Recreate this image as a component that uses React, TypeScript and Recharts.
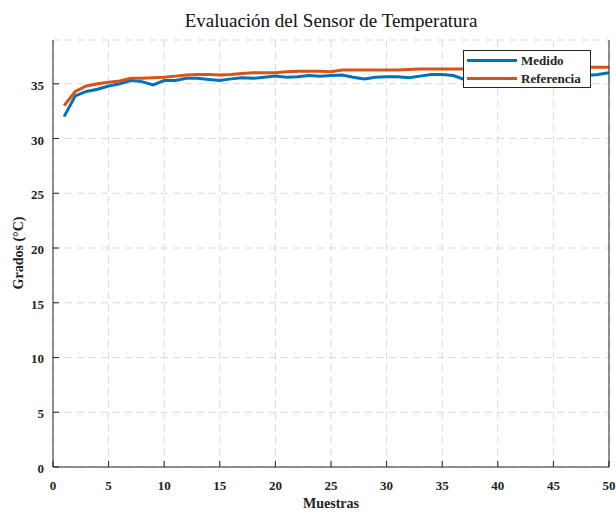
import React from 'react';
import { LineChart, Line, XAxis, YAxis, CartesianGrid } from 'recharts';

const samples = [1, 2, 3, 4, 5, 6, 7, 8, 9, 10, 11, 12, 13, 14, 15, 16, 17, 18, 19, 20, 21, 22, 23, 24, 25, 26, 27, 28, 29, 30, 31, 32, 33, 34, 35, 36, 37, 38, 39, 40, 41, 42, 43, 44, 45, 46, 47, 48, 49, 50];
const medido = [32.0, 33.9, 34.3, 34.5, 34.8, 35.0, 35.3, 35.2, 34.9, 35.3, 35.3, 35.5, 35.5, 35.4, 35.3, 35.45, 35.55, 35.5, 35.6, 35.7, 35.6, 35.65, 35.75, 35.7, 35.75, 35.8, 35.6, 35.45, 35.6, 35.65, 35.65, 35.55, 35.7, 35.85, 35.85, 35.75, 35.4, 35.5, 35.6, 35.7, 35.7, 35.8, 35.75, 35.8, 35.85, 35.8, 35.8, 35.75, 35.85, 36.0];
const referencia = [33.0, 34.3, 34.8, 35.0, 35.15, 35.25, 35.5, 35.5, 35.55, 35.6, 35.7, 35.8, 35.85, 35.85, 35.8, 35.85, 35.95, 36.0, 36.0, 36.0, 36.1, 36.15, 36.15, 36.15, 36.1, 36.25, 36.25, 36.25, 36.25, 36.25, 36.25, 36.3, 36.35, 36.35, 36.35, 36.35, 36.35, 36.4, 36.4, 36.4, 36.45, 36.45, 36.45, 36.45, 36.5, 36.5, 36.5, 36.5, 36.5, 36.5];
const xTicks = [0, 5, 10, 15, 20, 25, 30, 35, 40, 45, 50];
const yTicks = [0, 5, 10, 15, 20, 25, 30, 35];
const seriesNames = ['Medido', 'Referencia'];

const title = 'Evaluación del Sensor de Temperatura';
const xLabel = 'Muestras';
const yLabel = 'Grados (°C)';

const data = samples.map((s, i) => ({ x: s, medido: medido[i], referencia: referencia[i] }));

const FONT = '"Liberation Serif", "Times New Roman", serif';
const AX = '#262626';
const BLUE = '#0072BD';
const ORANGE = '#D95319';
const colors = [BLUE, ORANGE];

const Empty = () => <g />;

const YTick = (p: any) => (
  <text x={p.x} y={p.y + 3} textAnchor="end" dominantBaseline="middle" fontFamily={FONT} fontWeight="bold" fontSize={13} fill="#222">
    {p.payload.value}
  </text>
);

const LegendBox = () => (
  <div
    style={{
      position: 'absolute',
      left: 463,
      top: 50,
      width: 126,
      height: 36,
      border: '1px solid #262626',
      background: '#fff',
      fontFamily: FONT,
      fontWeight: 'bold',
      fontSize: 13,
      color: '#222',
    }}
  >
    {seriesNames.map((name, i) => (
      <div key={i} style={{ display: 'flex', alignItems: 'center', height: 17.5, marginTop: i === 0 ? 1 : 0 }}>
        <div style={{ width: 50, height: 3, background: colors[i], marginLeft: 3, marginRight: 4 }} />
        <span style={{ lineHeight: '15px' }}>{name}</span>
      </div>
    ))}
  </div>
);

export default function App() {
  return (
    <div style={{ position: 'absolute', left: 0, top: 0, width: 616, height: 514, background: '#fff' }}>
      <div
        style={{
          position: 'absolute',
          left: 30,
          top: 11,
          width: 602,
          textAlign: 'center',
          fontFamily: FONT,
          fontWeight: 'normal',
          fontSize: 19,
          lineHeight: '20px',
          color: '#111',
          whiteSpace: 'nowrap',
        }}
      >
        {title}
      </div>
      <LineChart
        width={616}
        height={514}
        data={data}
        margin={{ top: 40, right: 0, bottom: 0, left: 0 }}
      >
        <CartesianGrid
          xAxisId="b"
          yAxisId="l"
          stroke="#d9d9d9"
          strokeDasharray="7 5"
        />
        <XAxis
          xAxisId="b"
          dataKey="x"
          type="number"
          domain={[0, 50]}
          ticks={xTicks}
          height={47}
          tickSize={-6}
          tickMargin={20}
          stroke={AX}
          tick={{ fill: '#222', fontFamily: FONT, fontWeight: 'bold', fontSize: 13 }}
          interval={0}
          label={{
            content: (p: any) => {
              const vb = p.viewBox;
              return (
                <text x={vb.x + vb.width / 2} y={505} textAnchor="middle" dominantBaseline="middle" fontFamily={FONT} fontWeight="bold" fontSize={14} fill="#222">
                  {xLabel}
                </text>
              );
            },
          }}
        />
        <XAxis
          xAxisId="t"
          orientation="top"
          dataKey="x"
          type="number"
          domain={[0, 50]}
          ticks={xTicks}
          height={0}
          tickSize={-6}
          stroke={AX}
          tick={Empty}
          interval={0}
        />
        <YAxis
          yAxisId="l"
          type="number"
          domain={[0, 39]}
          ticks={yTicks}
          width={53}
          tickSize={-6}
          tickMargin={15}
          stroke={AX}
          interval={0}
          tick={YTick}
          label={{
            content: () => (
              <text x={20} y={253} transform="rotate(-90 20 253)" textAnchor="middle" dominantBaseline="middle" fontFamily={FONT} fontWeight="bold" fontSize={14} fill="#222">
                {yLabel}
              </text>
            ),
          }}
        />
        <YAxis
          yAxisId="r"
          orientation="right"
          type="number"
          domain={[0, 39]}
          ticks={yTicks}
          width={7}
          tickSize={-6}
          stroke={AX}
          interval={0}
          tick={Empty}
        />
        <Line
          xAxisId="b"
          yAxisId="l"
          type="linear"
          dataKey="medido"
          name="Medido"
          stroke={BLUE}
          strokeWidth={3}
          dot={false}
          isAnimationActive={false}
        />
        <Line
          xAxisId="b"
          yAxisId="l"
          type="linear"
          dataKey="referencia"
          name="Referencia"
          stroke={ORANGE}
          strokeWidth={3}
          dot={false}
          isAnimationActive={false}
        />
      </LineChart>
      <LegendBox />
    </div>
  );
}
